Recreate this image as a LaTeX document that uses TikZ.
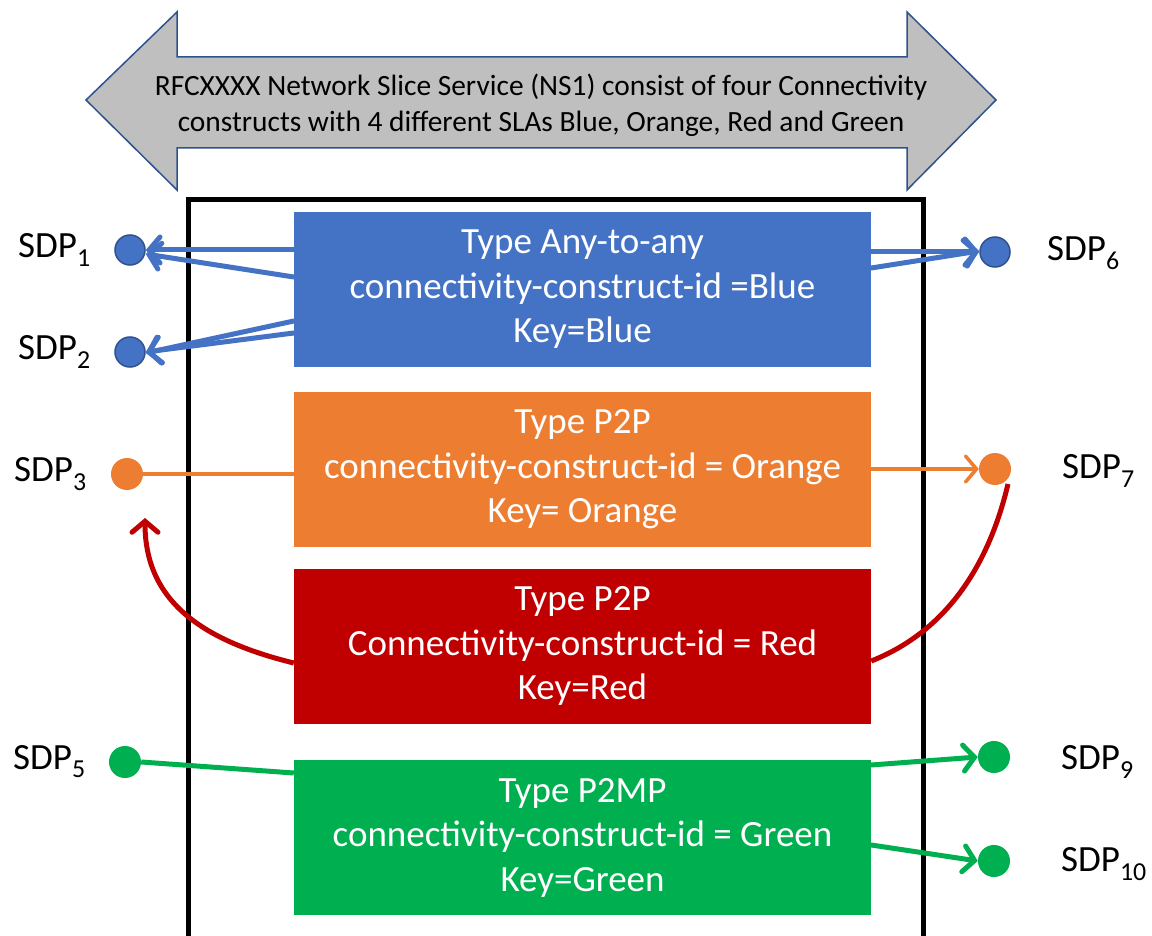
\documentclass[tikz,border=0pt]{standalone}
\usepackage{fontspec}
\setmainfont{Carlito}
\usetikzlibrary{arrows.meta}
\definecolor{cblue}{HTML}{4472C4}
\definecolor{cblueb}{HTML}{2F528F}
\definecolor{corange}{HTML}{ED7D31}
\definecolor{cred}{HTML}{C00000}
\definecolor{cgreen}{HTML}{00B050}
\definecolor{cgray}{HTML}{BFBFBF}
\tikzset{
  ccbox/.style={rectangle, minimum width=577, minimum height=155, inner sep=0, text=white, align=center, font=\fontsize{37}{44.5}\selectfont},
  sdpdot/.style={circle, minimum size=32, inner sep=0},
  sdplab/.style={font=\fontsize{37}{40}\selectfont, inner sep=0, anchor=west},
  barb/.style={-{Straight Barb[length=11,width=26,line cap=round]}, line cap=round},
}
\begin{document}
\begin{tikzpicture}[x=1pt,y=-1pt]
\useasboundingbox[fill=white] (0,0) rectangle (1152,936);
% double arrow
\draw[fill=cgray, draw=cblueb, line width=1.5] (86,100) -- (177,12) -- (177,57) -- (907,57) -- (907,12) -- (996,100) -- (907,190) -- (907,148) -- (177,148) -- (177,190) -- cycle;
\node[align=center, font=\fontsize{29.4}{36}\selectfont, inner sep=0] (title) at (541,105) {RFCXXXX Network Slice Service (NS1) consist of four Connectivity\\constructs with 4 different SLAs Blue, Orange, Red and Green};
% black frame
\draw[line width=5] (188,940) -- (188,200) -- (923,200) -- (923,940);
% boxes
\node[ccbox, fill=cblue] (blue) at (582.5,289.5) {Type Any-to-any\\connectivity-construct-id =Blue\\Key=Blue};
\node[ccbox, fill=corange] (orange) at (582.5,469.5) {Type P2P\\connectivity-construct-id = Orange\\Key= Orange};
\node[ccbox, fill=cred] (red) at (582.5,646) {Type P2P\\Connectivity-construct-id = Red\\Key=Red};
\node[ccbox, fill=cgreen] (green) at (582.5,837.5) {Type P2MP\\connectivity-construct-id = Green\\Key=Green};
% dots
\node[sdpdot, fill=cblue, draw=cblueb, line width=1.5, minimum size=30] (s1) at (130,250) {};
\node[sdpdot, fill=cblue, draw=cblueb, line width=1.5, minimum size=30] (s2) at (130,352) {};
\node[sdpdot, fill=cblue, draw=cblueb, line width=1.5, minimum size=30] (s6) at (995,252) {};
\node[sdpdot, fill=corange] (s3) at (127,474) {};
\node[sdpdot, fill=corange] (s7) at (995,469) {};
\node[sdpdot, fill=cgreen] (s5) at (125,762) {};
\node[sdpdot, fill=cgreen] (s9) at (994,757) {};
\node[sdpdot, fill=cgreen] (s10) at (994,861) {};
% labels
\node[sdplab] (l1) at (18,250) {SDP\textsubscript{1}};
\node[sdplab] (l2) at (18,352) {SDP\textsubscript{2}};
\node[sdplab] (l3) at (14,474) {SDP\textsubscript{3}};
\node[sdplab] (l5) at (13,762) {SDP\textsubscript{5}};
\node[sdplab] (l6) at (1047,253) {SDP\textsubscript{6}};
\node[sdplab] (l7) at (1062,471) {SDP\textsubscript{7}};
\node[sdplab] (l9) at (1061,762) {SDP\textsubscript{9}};
\node[sdplab] (l10) at (1061,864) {SDP\textsubscript{10}};
% blue connectors
\draw[barb, cblue, line width=5] (blue.west |- 0,250) -- (s1.east);
\draw[barb, cblue, line width=5] (blue.west |- 0,277) -- ([yshift=-4]s1.east);
\draw[barb, cblue, line width=5] (blue.west |- 0,321) -- ([yshift=-1]s2.east);
\draw[barb, cblue, line width=5] (blue.west |- 0,333) -- (s2.east);
\draw[barb, cblue, line width=5] (blue.east |- 0,252) -- (s6.west);
\draw[barb, cblue, line width=5] (blue.east |- 0,268) -- ([yshift=1]s6.west);
% orange
\draw[corange, line width=3.5] (s3.east) -- (orange.west |- s3);
\draw[barb, corange, line width=3.5] (orange.east |- s7) -- (s7.west);
% red
\coordinate (rtip) at (145,518);
\draw[barb, cred, line width=5, line cap=butt] (red.west |- 0,663) .. controls (200,640) and (145,600) .. (rtip);
\coordinate (r7) at (1008,484);
\draw[cred, line width=5] (red.east |- 0,661) .. controls (950,630) and (990,560) .. (r7);
% green
\draw[cgreen, line width=5] (s5.east) -- (green.west |- 0,773);
\draw[barb, cgreen, line width=5] (green.east |- 0,765) -- (s9.west);
\draw[barb, cgreen, line width=5] (green.east |- 0,845) -- (s10.west);
\end{tikzpicture}
\end{document}
